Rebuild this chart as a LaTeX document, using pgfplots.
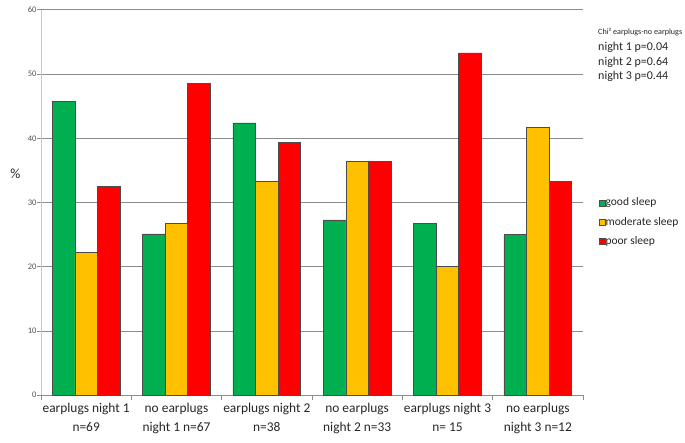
\documentclass[border=0pt]{standalone}
\usepackage{pgfplots}
\usepackage{pgfplotstable}
\pgfplotsset{compat=1.18}
\usepackage{fontspec}
\setmainfont{Carlito}
\definecolor{cgreen}{RGB}{0,176,80}
\definecolor{cyellow}{RGB}{255,192,0}
\definecolor{cred}{RGB}{255,0,0}
\definecolor{gridc}{RGB}{140,140,140}
\definecolor{yaxc}{RGB}{200,200,200}
\definecolor{tickc}{RGB}{80,80,80}
\definecolor{txtc}{RGB}{38,38,38}

\pgfplotstableread{
x good moderate poor
0 45.7 22.2 32.5
1 25.1 26.7 48.5
2 42.4 33.3 39.4
3 27.3 36.4 36.4
4 26.7 20.0 53.3
5 25.0 41.7 33.3
}\datatable

\begin{document}
\begin{tikzpicture}
\begin{axis}[
  at={(41pt,46.9pt)}, anchor=south west,
  scale only axis, width=542pt, height=385.2pt,
  ybar, bar width=0.25,
  xmin=-0.5, xmax=5.5, ymin=0, ymax=60,
  enlargelimits=false,
  axis x line=bottom, axis y line=left,
  x axis line style={-, draw=gridc, line width=0.8pt},
  y axis line style={-, draw=yaxc, line width=0.8pt},
  ytick={0,10,...,60},
  xtick={0,1,2,3,4,5},
  xticklabels={{earplugs night 1\\n=69},{no earplugs\\night 1 n=67},{earplugs night 2\\n=38},{no earplugs\\night 2 n=33},{earplugs night 3\\n= 15},{no earplugs\\night 3 n=12}},
  minor xtick={-0.5,0.5,...,5.5},
  tick align=outside,
  major x tick style={draw=none},
  minor x tick style={draw=gridc, line width=0.8pt},
  minor tick length=5pt,
  major y tick style={draw=gridc, line width=0.8pt},
  major tick length=4pt,
  ymajorgrids, grid style={draw=gridc, line width=0.8pt},
  /pgf/number format/assume math mode=true,
  yticklabel style={font=\fontsize{8.5}{10}\selectfont, text=tickc, xshift=3pt},
  xticklabel style={font=\fontsize{13.4}{18.5}\selectfont, text=txtc, align=center, anchor=north, yshift=-1pt},
  legend style={at={(1.0295,0.512)}, anchor=north west, draw=none, fill=none,
     inner sep=0pt, outer sep=0pt, row sep=9.3pt,
     font=\fontsize{11.5}{13}\selectfont,
     nodes={inner sep=0pt, text height=8pt, text depth=2pt, text=txtc},
     /tikz/every even column/.append style={column sep=3.5pt}},
  legend cell align=left,
  legend image code/.code={\draw[#1] (0pt,-3pt) rectangle (6pt,3pt);},
]
\addplot[bar shift=-0.25, fill=cgreen, draw=black!70, line width=0.6pt] table[x=x,y=good] {\datatable};
\addplot[bar shift=0, fill=cyellow, draw=black!70, line width=0.6pt] table[x=x,y=moderate] {\datatable};
\addplot[bar shift=0.25, fill=cred, draw=black!70, line width=0.6pt] table[x=x,y=poor] {\datatable};
\legend{good sleep, moderate sleep, poor sleep}
\end{axis}
\node[anchor=center, font=\fontsize{14}{16}\selectfont, text=txtc] at (15.5pt,268pt) {\%};
\node[anchor=base west, inner sep=0pt, font=\fontsize{8.1}{10}\selectfont, text=txtc] at (598pt,407pt) {Chi² earplugs-no earplugs};
\node[anchor=base west, inner sep=0pt, font=\fontsize{12}{14}\selectfont, text=txtc] at (598pt,391.5pt) {night 1 p=0.04};
\node[anchor=base west, inner sep=0pt, font=\fontsize{12}{14}\selectfont, text=txtc] at (598pt,376.7pt) {night 2 p=0.64};
\node[anchor=base west, inner sep=0pt, font=\fontsize{12}{14}\selectfont, text=txtc] at (598pt,362pt) {night 3 p=0.44};
\pgfresetboundingbox
\path (0,0) rectangle (685pt,442pt);
\end{tikzpicture}
\end{document}
